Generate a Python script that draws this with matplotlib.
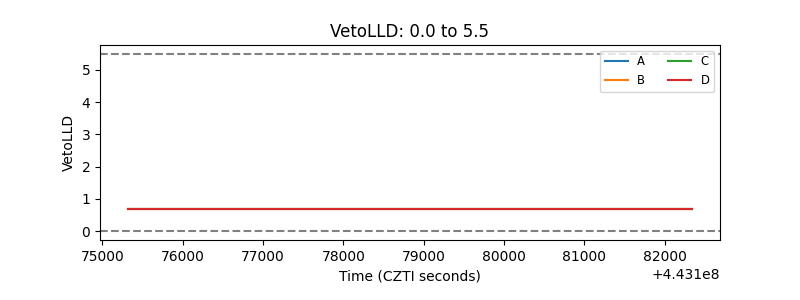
import matplotlib
matplotlib.use("Agg")
import matplotlib.pyplot as plt
import numpy as np

time = [443175320, 443177000, 443179000, 443181000, 443182340]
quadrants = ["A", "B", "C", "D"]
veto_a = [0.7, 0.7, 0.7, 0.7, 0.7]
veto_b = [0.7, 0.7, 0.7, 0.7, 0.7]
veto_c = [0.7, 0.7, 0.7, 0.7, 0.7]
veto_d = [0.7, 0.7, 0.7, 0.7, 0.7]
low_limit = 0.0
high_limit = 5.5

fig = plt.figure(figsize=(8, 3), dpi=100)
ax = fig.add_axes([0.125, 0.2, 0.775, 0.65])
for lab, vals in zip(quadrants, [veto_a, veto_b, veto_c, veto_d]):
    ax.plot(time, vals, label=lab)
ax.axhline(low_limit, color="gray", linestyle="--")
ax.axhline(high_limit, color="gray", linestyle="--")
ax.set_title(f"VetoLLD: {low_limit} to {high_limit}")
ax.set_xlabel("Time (CZTI seconds)")
ax.set_ylabel("VetoLLD")
ax.legend(loc="upper right", ncol=2, fontsize="small")
fig.savefig("out.png", dpi=100)
